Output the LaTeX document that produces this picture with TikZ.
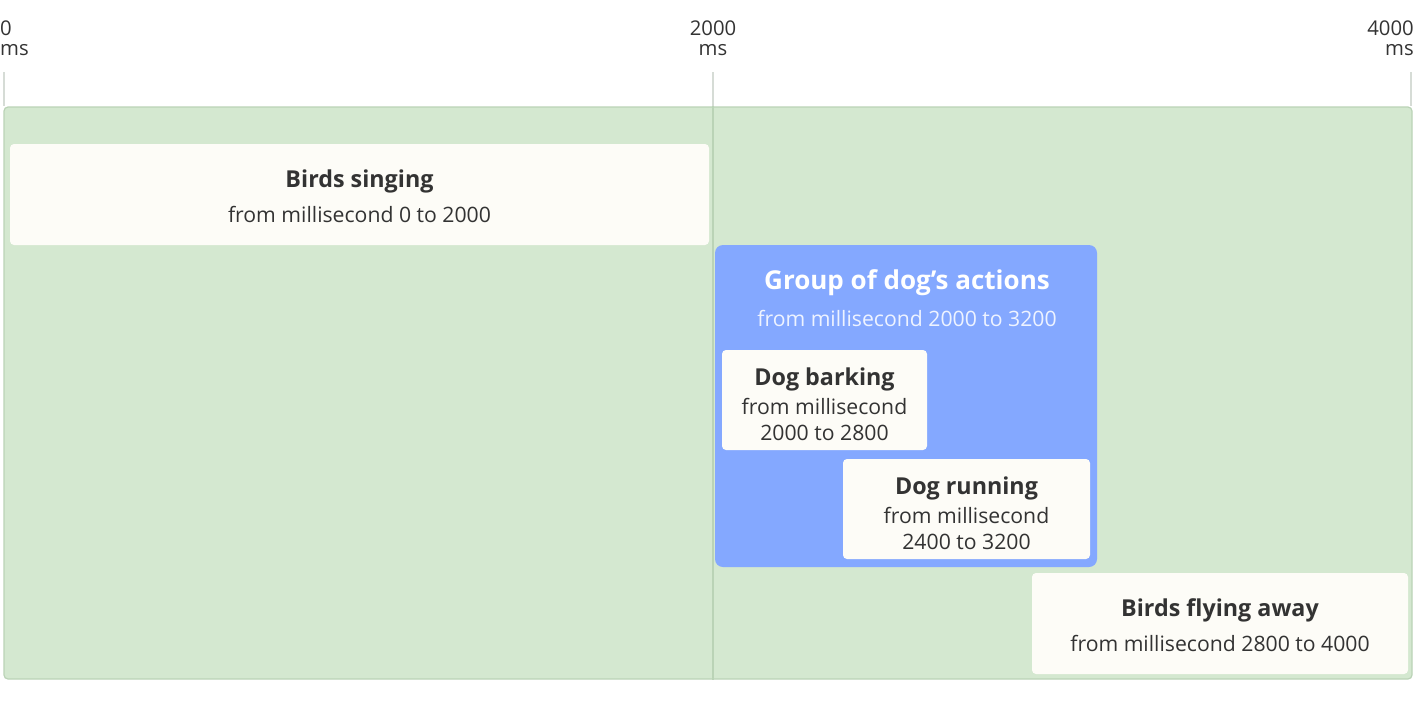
\documentclass[tikz,border=0pt]{standalone}
\usepackage{fontspec}
\setmainfont{Open Sans}
\usetikzlibrary{positioning}
\definecolor{TLGreen}{HTML}{D4E8D0}
\definecolor{TLGreenLine}{HTML}{BAD3B6}
\definecolor{TLTick}{HTML}{D6DCD6}
\definecolor{TLCard}{HTML}{FDFCF7}
\definecolor{TLBlue}{HTML}{84A8FF}
\definecolor{TLText}{HTML}{333333}
\definecolor{TLSoft}{HTML}{EEF3FF}
\newcommand\ttlfont{\fontsize{23.3}{26}\selectfont\bfseries}

\begin{document}
\begin{tikzpicture}[
  x=1pt,
  y=-1pt,
  track/.style={
    draw=TLGreenLine,
    fill=TLGreen,
    line width=1.2pt,
    rounded corners=4pt,
    minimum width=1408pt,
    minimum height=572pt
  },
  card/.style={
    fill=TLCard,
    rounded corners=4pt,
    inner sep=0pt,
    align=center,
    text=TLText,
    font=\fontsize{21.2}{26}\selectfont
  },
  group/.style={
    fill=TLBlue,
    rounded corners=8pt,
    inner sep=0pt,
    minimum width=382pt,
    minimum height=322pt
  },
  ticklabel/.style={
    align=center,
    inner sep=0pt,
    text=TLText,
    font=\fontsize{20.3}{20}\selectfont
  },
  tick/.style={
    draw=TLTick,
    line width=1.5pt
  }
]

\useasboundingbox (0,0) rectangle (1414,702);

% time line
\node[track] (track) at (708,393) {};
\coordinate (t0) at (4,72);
\coordinate (t1) at (713,72);
\coordinate (t2) at (1411,72);
\foreach \t in {t0,t1,t2} {
  \draw[tick] (\t) -- (\t |- track.north);
}
\draw[draw=TLGreenLine,line width=2pt] (t1 |- track.north) -- (t1 |- track.south);

\node[ticklabel,align=left,anchor=west] (lab0) at (0,38) {0\\ms};
\node[ticklabel] (lab1) at (713,38) {2000\\ms};
\node[ticklabel,align=right,anchor=east] (lab2) at (1414,38) {4000\\ms};

% events
\node[card,minimum width=699pt,minimum height=101pt] (sing) at (359.5,194.5)
  {{\ttlfont\rule{0pt}{21pt}Birds singing}\\[9pt]from millisecond 0 to 2000};

\node[group] (dog) at (906,406) {};
\node[text=white,font=\fontsize{26}{30}\selectfont\bfseries] (dogtitle) at (907,282.5)
  {Group of dog’s actions};
\node[text=TLSoft,font=\fontsize{21.2}{26}\selectfont] (dogsub) at (907,318)
  {from millisecond 2000 to 3200};

\node[card,minimum width=205pt,minimum height=100pt] (bark) at (824.5,400)
  {{\ttlfont\rule{0pt}{26pt}Dog barking}\\[3pt]from millisecond\\2000 to 2800};
\node[card,minimum width=247pt,minimum height=100pt] (run) at (966.5,509)
  {{\ttlfont\rule{0pt}{26pt}Dog running}\\[3pt]from millisecond\\2400 to 3200};

\node[card,minimum width=376pt,minimum height=101pt] (fly) at (1220,623.5)
  {{\ttlfont\rule{0pt}{21pt}Birds flying away}\\[9pt]from millisecond 2800 to 4000};

\end{tikzpicture}
\end{document}
